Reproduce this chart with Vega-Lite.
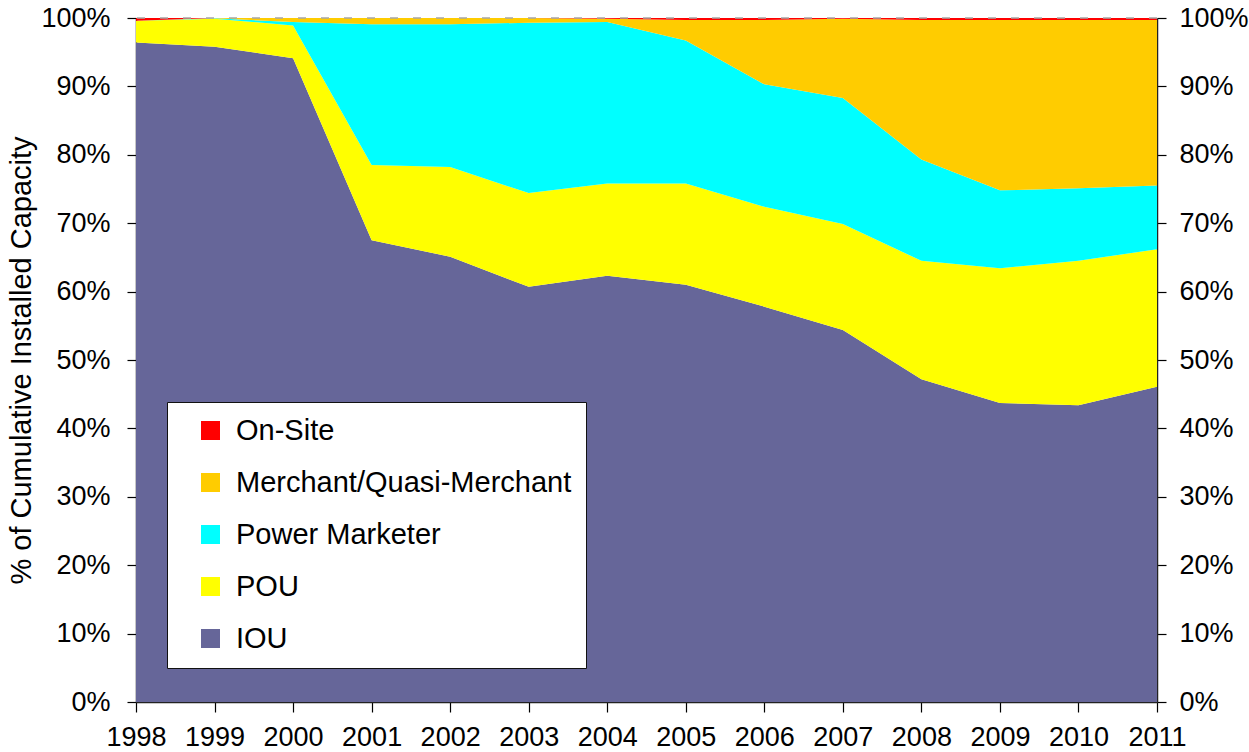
{
  "$schema": "https://vega.github.io/schema/vega-lite/v6.json",
  "width": 1021,
  "height": 684,
  "autosize": {"type": "none"},
  "padding": {"left": 136, "top": 18, "right": 92, "bottom": 50},
  "background": "white",
  "config": {
    "view": {"stroke": null},
    "font": "Liberation Sans",
    "axis": {
      "labelFont": "Liberation Sans",
      "titleFont": "Liberation Sans",
      "labelColor": "black",
      "titleColor": "black",
      "labelFontSize": 27,
      "titleFontSize": 29,
      "titleFontWeight": "normal",
      "domainColor": "#222222",
      "domainWidth": 1.5,
      "tickColor": "black",
      "tickSize": 9,
      "tickWidth": 1.2,
      "grid": false
    }
  },
  "datasets": {
    "cap": [
      {"year": 1998, "s": "IOU", "v": 96.4, "k": 1},
      {"year": 1998, "s": "POU", "v": 3.2, "k": 2},
      {"year": 1998, "s": "Power Marketer", "v": 0, "k": 3},
      {"year": 1998, "s": "Merchant/Quasi-Merchant", "v": 0, "k": 4},
      {"year": 1998, "s": "On-Site", "v": 0.4, "k": 5},
      {"year": 1999, "s": "IOU", "v": 95.8, "k": 1},
      {"year": 1999, "s": "POU", "v": 4.1, "k": 2},
      {"year": 1999, "s": "Power Marketer", "v": 0.05, "k": 3},
      {"year": 1999, "s": "Merchant/Quasi-Merchant", "v": 0.05, "k": 4},
      {"year": 1999, "s": "On-Site", "v": 0, "k": 5},
      {"year": 2000, "s": "IOU", "v": 94.1, "k": 1},
      {"year": 2000, "s": "POU", "v": 4.8, "k": 2},
      {"year": 2000, "s": "Power Marketer", "v": 0.5, "k": 3},
      {"year": 2000, "s": "Merchant/Quasi-Merchant", "v": 0.6, "k": 4},
      {"year": 2000, "s": "On-Site", "v": 0, "k": 5},
      {"year": 2001, "s": "IOU", "v": 67.5, "k": 1},
      {"year": 2001, "s": "POU", "v": 11.0, "k": 2},
      {"year": 2001, "s": "Power Marketer", "v": 20.6, "k": 3},
      {"year": 2001, "s": "Merchant/Quasi-Merchant", "v": 0.9, "k": 4},
      {"year": 2001, "s": "On-Site", "v": 0, "k": 5},
      {"year": 2002, "s": "IOU", "v": 65.1, "k": 1},
      {"year": 2002, "s": "POU", "v": 13.1, "k": 2},
      {"year": 2002, "s": "Power Marketer", "v": 20.9, "k": 3},
      {"year": 2002, "s": "Merchant/Quasi-Merchant", "v": 0.9, "k": 4},
      {"year": 2002, "s": "On-Site", "v": 0, "k": 5},
      {"year": 2003, "s": "IOU", "v": 60.7, "k": 1},
      {"year": 2003, "s": "POU", "v": 13.7, "k": 2},
      {"year": 2003, "s": "Power Marketer", "v": 24.9, "k": 3},
      {"year": 2003, "s": "Merchant/Quasi-Merchant", "v": 0.7, "k": 4},
      {"year": 2003, "s": "On-Site", "v": 0, "k": 5},
      {"year": 2004, "s": "IOU", "v": 62.3, "k": 1},
      {"year": 2004, "s": "POU", "v": 13.5, "k": 2},
      {"year": 2004, "s": "Power Marketer", "v": 23.6, "k": 3},
      {"year": 2004, "s": "Merchant/Quasi-Merchant", "v": 0.5, "k": 4},
      {"year": 2004, "s": "On-Site", "v": 0.1, "k": 5},
      {"year": 2005, "s": "IOU", "v": 61.0, "k": 1},
      {"year": 2005, "s": "POU", "v": 14.8, "k": 2},
      {"year": 2005, "s": "Power Marketer", "v": 20.9, "k": 3},
      {"year": 2005, "s": "Merchant/Quasi-Merchant", "v": 3.0, "k": 4},
      {"year": 2005, "s": "On-Site", "v": 0.3, "k": 5},
      {"year": 2006, "s": "IOU", "v": 57.8, "k": 1},
      {"year": 2006, "s": "POU", "v": 14.6, "k": 2},
      {"year": 2006, "s": "Power Marketer", "v": 17.9, "k": 3},
      {"year": 2006, "s": "Merchant/Quasi-Merchant", "v": 9.4, "k": 4},
      {"year": 2006, "s": "On-Site", "v": 0.3, "k": 5},
      {"year": 2007, "s": "IOU", "v": 54.4, "k": 1},
      {"year": 2007, "s": "POU", "v": 15.5, "k": 2},
      {"year": 2007, "s": "Power Marketer", "v": 18.4, "k": 3},
      {"year": 2007, "s": "Merchant/Quasi-Merchant", "v": 11.6, "k": 4},
      {"year": 2007, "s": "On-Site", "v": 0.1, "k": 5},
      {"year": 2008, "s": "IOU", "v": 47.2, "k": 1},
      {"year": 2008, "s": "POU", "v": 17.3, "k": 2},
      {"year": 2008, "s": "Power Marketer", "v": 14.8, "k": 3},
      {"year": 2008, "s": "Merchant/Quasi-Merchant", "v": 20.4, "k": 4},
      {"year": 2008, "s": "On-Site", "v": 0.3, "k": 5},
      {"year": 2009, "s": "IOU", "v": 43.7, "k": 1},
      {"year": 2009, "s": "POU", "v": 19.7, "k": 2},
      {"year": 2009, "s": "Power Marketer", "v": 11.4, "k": 3},
      {"year": 2009, "s": "Merchant/Quasi-Merchant", "v": 24.9, "k": 4},
      {"year": 2009, "s": "On-Site", "v": 0.3, "k": 5},
      {"year": 2010, "s": "IOU", "v": 43.4, "k": 1},
      {"year": 2010, "s": "POU", "v": 21.1, "k": 2},
      {"year": 2010, "s": "Power Marketer", "v": 10.6, "k": 3},
      {"year": 2010, "s": "Merchant/Quasi-Merchant", "v": 24.6, "k": 4},
      {"year": 2010, "s": "On-Site", "v": 0.3, "k": 5},
      {"year": 2011, "s": "IOU", "v": 46.1, "k": 1},
      {"year": 2011, "s": "POU", "v": 20.1, "k": 2},
      {"year": 2011, "s": "Power Marketer", "v": 9.3, "k": 3},
      {"year": 2011, "s": "Merchant/Quasi-Merchant", "v": 24.2, "k": 4},
      {"year": 2011, "s": "On-Site", "v": 0.3, "k": 5}
    ],
    "top": [{"y": 100}]
  },
  "layer": [
    {
      "data": {"name": "cap"},
      "mark": {"type": "area", "interpolate": "linear"},
      "encoding": {
        "x": {
          "field": "year",
          "type": "quantitative",
          "scale": {"domain": [1998, 2011], "nice": false, "zero": false},
          "axis": {
            "title": null,
            "values": [1998, 1999, 2000, 2001, 2002, 2003, 2004, 2005, 2006, 2007, 2008, 2009, 2010, 2011],
            "format": "d",
            "tickSize": 10,
            "labelPadding": 12,
            "labelFlush": false,
            "labelOverlap": false
          }
        },
        "y": {
          "field": "v",
          "type": "quantitative",
          "stack": "zero",
          "scale": {"domain": [0, 100], "nice": false},
          "axis": {
            "title": "% of Cumulative Installed Capacity",
            "values": [0, 10, 20, 30, 40, 50, 60, 70, 80, 90, 100],
            "labelExpr": "datum.value + '%'",
            "labelPadding": 17,
            "titlePadding": 4
          }
        },
        "color": {
          "field": "s",
          "type": "nominal",
          "scale": {
            "domain": ["On-Site", "Merchant/Quasi-Merchant", "Power Marketer", "POU", "IOU"],
            "range": ["#FF0000", "#FFCC00", "#00FFFF", "#FFFF00", "#666699"]
          },
          "legend": {
            "title": null,
            "orient": "none",
            "legendX": 31,
            "legendY": 384,
            "direction": "vertical",
            "symbolType": "square",
            "symbolSize": 361,
            "symbolStrokeWidth": 0,
            "symbolOpacity": 1,
            "symbolOffset": 15,
            "labelFont": "Liberation Sans",
            "labelFontSize": 29,
            "labelColor": "black",
            "labelOffset": 11,
            "labelLimit": 500,
            "rowPadding": 22,
            "padding": 14,
            "fillColor": "white",
            "strokeColor": "#111111"
          }
        },
        "order": {"field": "k", "type": "quantitative", "sort": "ascending"}
      }
    },
    {
      "data": {"name": "top"},
      "mark": {"type": "rule", "color": "#a6a6a6", "strokeDash": [8, 15], "strokeWidth": 1.5},
      "encoding": {
        "y": {
          "field": "y",
          "type": "quantitative",
          "scale": {"domain": [0, 100], "nice": false},
          "axis": {
            "orient": "right",
            "title": null,
            "values": [0, 10, 20, 30, 40, 50, 60, 70, 80, 90, 100],
            "labelExpr": "datum.value + '%'",
            "labelPadding": 13,
            "labelAlign": "left"
          }
        }
      }
    }
  ],
  "resolve": {"scale": {"y": "independent"}}
}
